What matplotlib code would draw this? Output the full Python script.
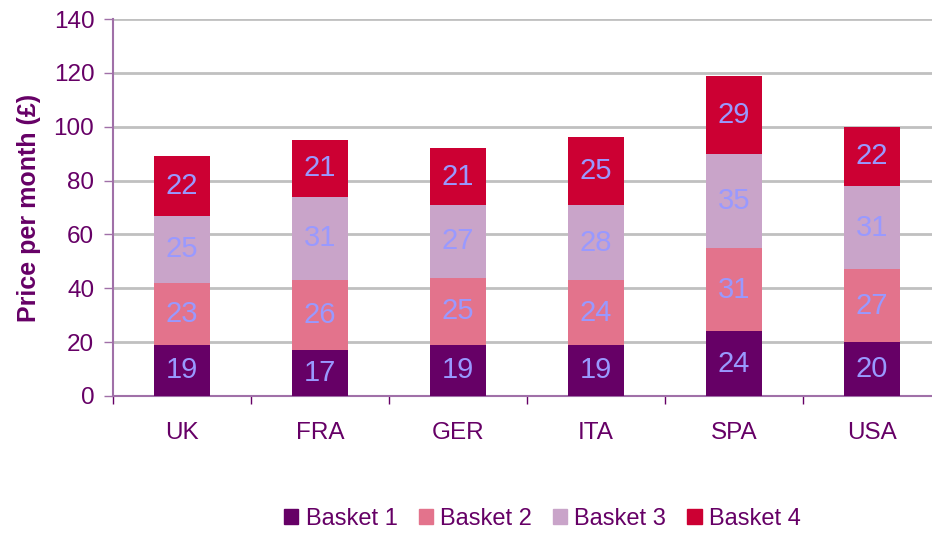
import numpy as np
import matplotlib.pyplot as plt
from matplotlib.patches import Patch

countries = ["UK", "FRA", "GER", "ITA", "SPA", "USA"]
basket_names = ["Basket 1", "Basket 2", "Basket 3", "Basket 4"]
basket1 = [19, 17, 19, 19, 24, 20]
basket2 = [23, 26, 25, 24, 31, 27]
basket3 = [25, 31, 27, 28, 35, 31]
basket4 = [22, 21, 21, 25, 29, 22]
colors = ["#660066", "#E3738C", "#C9A4C9", "#CC0033"]

plt.rcParams['font.family'] = ['Liberation Sans', 'DejaVu Sans']
txt = "#660066"
axis_col = "#A070A8"

fig = plt.figure(figsize=(9.32, 5.34), dpi=100)
ax = fig.add_axes([113 / 932, 138 / 534, 828 / 932, 377 / 534])

x = np.arange(len(countries))
bottom = np.zeros(len(countries))
for vals, col in zip([basket1, basket2, basket3, basket4], colors):
    vals = np.array(vals)
    ax.bar(x, vals, 0.41, bottom=bottom, color=col, zorder=3)
    for xi, b, v in zip(x, bottom, vals):
        ax.text(xi, b + v / 2, str(v), ha='center', va='center',
                color="#9999FF", fontsize=21, zorder=4)
    bottom += vals

ax.set_xlim(-0.5, 5.5)
ax.set_ylim(0, 140)
ax.set_yticks(range(0, 141, 20))
ax.yaxis.grid(True, color="#C0C0C0", linewidth=2, zorder=0)
ax.set_axisbelow(True)

ax.set_xticks(x)
ax.set_xticklabels(countries)
ax.set_xticks(np.arange(-0.5, 6, 1), minor=True)
ax.tick_params(axis='x', which='major', length=0, pad=19, labelsize=17.5, labelcolor=txt)
ax.tick_params(axis='x', which='minor', length=6, width=1, color=txt)
ax.tick_params(axis='y', length=6.5, width=1, color=axis_col, pad=7,
               labelsize=17.5, labelcolor=txt)

for s in ["top", "right"]:
    ax.spines[s].set_visible(False)
for s in ["left", "bottom"]:
    ax.spines[s].set_color(axis_col)
    ax.spines[s].set_linewidth(1.5)

ax.set_ylabel("Price per month (£)", fontsize=18, fontweight='bold', color=txt, labelpad=9)

handles = [Patch(color=c) for c in colors]
fig.legend(handles, basket_names, loc='center', bbox_to_anchor=(0.582, 0.028),
           ncol=4, frameon=False, fontsize=17, handlelength=0.6, handleheight=0.6,
           handletextpad=0.3, columnspacing=0.9, labelcolor=txt)

fig.savefig("out.png", dpi=100)
